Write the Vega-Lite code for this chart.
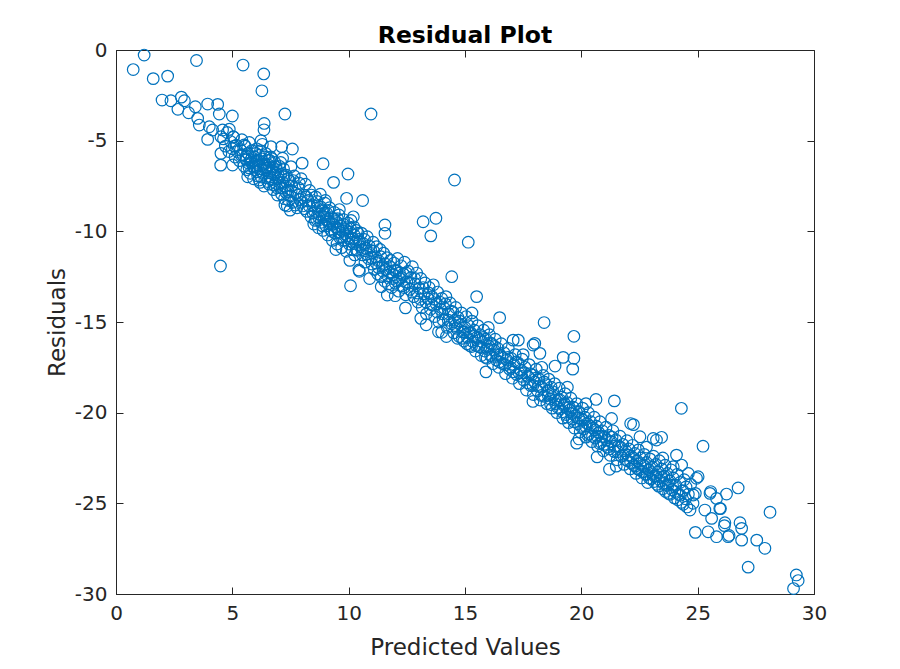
{
"$schema":"https://vega.github.io/schema/vega-lite/v6.json",
"width":698,"height":544,
"autosize":{"type":"none"},
"padding":{"left":116,"top":50,"right":86,"bottom":75},
"background":"#ffffff",
"title":{"text":"Residual Plot","font":"DejaVu Sans","fontSize":23.5,"fontWeight":"bold","color":"#000000","offset":-7,"anchor":"middle"},
"config":{"view":{"stroke":"#262626","strokeWidth":1},"axis":{"grid":false}},
"data":{"values":[
{"pred":0.74,"resid":-1.08},{"pred":1.21,"resid":-0.28},{"pred":1.6,"resid":-1.58},{"pred":2.22,"resid":-1.44},{"pred":3.46,"resid":-0.58},{"pred":5.46,"resid":-0.83},{"pred":6.35,"resid":-1.32},{"pred":6.27,"resid":-2.25},{"pred":7.26,"resid":-3.53},{"pred":10.96,"resid":-3.53},
{"pred":4.49,"resid":-11.91},{"pred":14.55,"resid":-7.17},{"pred":15.14,"resid":-10.6},{"pred":13.2,"resid":-9.47},{"pred":13.75,"resid":-9.28},{"pred":13.53,"resid":-10.25},{"pred":24.3,"resid":-19.76},{"pred":25.23,"resid":-21.85},{"pred":28.11,"resid":-25.49},{"pred":26.74,"resid":-24.15},
{"pred":27.17,"resid":-28.52},{"pred":29.24,"resid":-28.95},{"pred":29.32,"resid":-29.26},{"pred":29.12,"resid":-29.7},{"pred":27.89,"resid":-27.48},{"pred":27.54,"resid":-27.03},{"pred":18.4,"resid":-15.03},{"pred":19.68,"resid":-15.79},{"pred":16.49,"resid":-14.76},{"pred":9.97,"resid":-6.84},
{"pred":8.9,"resid":-6.27},{"pred":10.6,"resid":-8.3},{"pred":10.08,"resid":-13.0},{"pred":15.9,"resid":-17.75},{"pred":17.92,"resid":-19.38},{"pred":19.8,"resid":-21.68},{"pred":20.68,"resid":-22.44},{"pred":21.21,"resid":-23.12},{"pred":24.9,"resid":-26.6},{"pred":21.42,"resid":-19.35},
{"pred":22.12,"resid":-20.6},{"pred":22.24,"resid":-20.66},{"pred":14.0,"resid":-15.57},{"pred":13.33,"resid":-15.15},{"pred":11.66,"resid":-13.51},{"pred":12.44,"resid":-14.22},{"pred":4.5,"resid":-6.35},{"pred":5.0,"resid":-3.64},{"pred":4.37,"resid":-3.0},{"pred":1.98,"resid":-2.76},
{"pred":2.81,"resid":-2.6},{"pred":7.48,"resid":-8.83},{"pred":7.58,"resid":-5.46},{"pred":8.0,"resid":-6.24},{"pred":6.37,"resid":-4.05},{"pred":6.36,"resid":-4.4},{"pred":9.35,"resid":-7.3},{"pred":9.91,"resid":-8.18},{"pred":11.56,"resid":-9.65},{"pred":11.56,"resid":-10.11},
{"pred":10.44,"resid":-12.13},{"pred":15.5,"resid":-13.6},{"pred":14.43,"resid":-12.5},{"pred":13.86,"resid":-15.54},{"pred":17.07,"resid":-16.0},{"pred":17.29,"resid":-16.0},{"pred":18.0,"resid":-16.18},{"pred":19.68,"resid":-17.0},{"pred":19.63,"resid":-17.6},{"pred":19.22,"resid":-16.95},
{"pred":18.87,"resid":-17.43},{"pred":17.93,"resid":-16.27},{"pred":18.22,"resid":-16.73},{"pred":20.63,"resid":-19.27},{"pred":21.3,"resid":-20.32},{"pred":22.52,"resid":-21.33},{"pred":23.09,"resid":-21.42},{"pred":23.45,"resid":-21.36},{"pred":25.02,"resid":-23.53},{"pred":7.26,"resid":-8.55},
{"pred":7.12,"resid":-5.33},
{"pred":2.36,"resid":-2.8},{"pred":2.94,"resid":-2.8},{"pred":2.66,"resid":-3.27},{"pred":3.12,"resid":-3.46},{"pred":3.41,"resid":-3.13},{"pred":3.51,"resid":-3.77},{"pred":3.58,"resid":-4.14},{"pred":3.94,"resid":-2.98},{"pred":4.44,"resid":-3.53},{"pred":4.01,"resid":-4.23},
{"pred":4.15,"resid":-4.41},{"pred":3.94,"resid":-4.93},{"pred":4.58,"resid":-4.41},{"pred":4.87,"resid":-4.37},{"pred":4.51,"resid":-4.78},{"pred":5.04,"resid":-4.78},{"pred":4.51,"resid":-5.7},{"pred":5.08,"resid":-5.3},{"pred":5.51,"resid":-5.24},{"pred":6.23,"resid":-5.0},
{"pred":6.66,"resid":-5.33},{"pred":5.59,"resid":-6.07},{"pred":5.66,"resid":-6.99},{"pred":6.02,"resid":-6.43},{"pred":6.16,"resid":-7.17},{"pred":6.59,"resid":-6.07},{"pred":6.88,"resid":-6.43},{"pred":7.16,"resid":-5.97},{"pred":7.52,"resid":-6.43},{"pred":5.37,"resid":-5.79},
{"pred":5.01,"resid":-6.34},
{"pred":4.62,"resid":-4.9},{"pred":4.7,"resid":-5.3},{"pred":4.78,"resid":-4.55},{"pred":4.85,"resid":-5.6},{"pred":4.93,"resid":-5.05},{"pred":5.0,"resid":-5.45},{"pred":5.05,"resid":-4.8},{"pred":5.12,"resid":-5.9},{"pred":5.18,"resid":-5.25},{"pred":5.22,"resid":-5.6},
{"pred":5.3,"resid":-6.1},{"pred":5.35,"resid":-5.5},{"pred":5.41,"resid":-4.95},{"pred":5.46,"resid":-5.8},{"pred":5.5,"resid":-6.4},
{"pred":5.55,"resid":-5.3},{"pred":5.58,"resid":-6.0},{"pred":5.62,"resid":-6.6},{"pred":5.66,"resid":-5.7},{"pred":5.7,"resid":-6.25},{"pred":5.73,"resid":-5.1},{"pred":5.77,"resid":-6.8},{"pred":5.8,"resid":-6.05},{"pred":5.84,"resid":-5.55},{"pred":5.88,"resid":-6.4},
{"pred":5.91,"resid":-7.1},{"pred":5.95,"resid":-5.9},{"pred":5.98,"resid":-6.6},{"pred":6.02,"resid":-6.2},{"pred":6.05,"resid":-5.45},{"pred":6.09,"resid":-6.95},{"pred":6.12,"resid":-6.35},{"pred":6.15,"resid":-5.8},{"pred":6.19,"resid":-7.3},{"pred":6.22,"resid":-6.55},
{"pred":6.26,"resid":-6.0},{"pred":6.29,"resid":-5.2},{"pred":6.32,"resid":-6.8},{"pred":6.36,"resid":-7.5},{"pred":6.4,"resid":-6.3},{"pred":6.43,"resid":-5.7},{"pred":6.47,"resid":-7.05},{"pred":6.5,"resid":-6.5},
{"pred":6.54,"resid":-6.1},{"pred":6.58,"resid":-7.4},{"pred":6.61,"resid":-6.75},{"pred":6.65,"resid":-5.9},{"pred":6.69,"resid":-7.15},{"pred":6.72,"resid":-6.45},{"pred":6.76,"resid":-7.7},{"pred":6.8,"resid":-6.9},{"pred":6.83,"resid":-6.2},{"pred":6.87,"resid":-7.35},
{"pred":6.9,"resid":-6.6},{"pred":6.94,"resid":-8.0},{"pred":6.98,"resid":-7.1},{"pred":7.01,"resid":-6.4},{"pred":7.05,"resid":-7.6},{"pred":7.09,"resid":-6.85},{"pred":7.12,"resid":-7.95},{"pred":7.16,"resid":-7.3},{"pred":7.2,"resid":-6.55},{"pred":7.24,"resid":-8.2},
{"pred":7.28,"resid":-7.5},{"pred":7.32,"resid":-6.9},{"pred":7.36,"resid":-8.6},{"pred":7.4,"resid":-7.8},{"pred":7.45,"resid":-7.2},{"pred":7.5,"resid":-8.05},
{"pred":7.55,"resid":-7.5},{"pred":7.6,"resid":-8.4},{"pred":7.66,"resid":-6.95},{"pred":7.72,"resid":-7.9},{"pred":7.78,"resid":-8.7},{"pred":7.84,"resid":-7.6},{"pred":7.9,"resid":-8.25},{"pred":7.96,"resid":-7.1},{"pred":8.02,"resid":-8.6},{"pred":8.08,"resid":-8.0},
{"pred":8.14,"resid":-7.4},{"pred":8.2,"resid":-8.9},{"pred":8.26,"resid":-8.3},{"pred":8.32,"resid":-7.75},{"pred":8.38,"resid":-9.2},{"pred":8.44,"resid":-8.55},{"pred":8.5,"resid":-9.6},
{"pred":8.54,"resid":-8.9},{"pred":8.58,"resid":-8.1},{"pred":8.62,"resid":-9.35},{"pred":8.66,"resid":-8.6},{"pred":8.7,"resid":-9.8},{"pred":8.74,"resid":-9.05},{"pred":8.78,"resid":-7.95},{"pred":8.82,"resid":-9.5},{"pred":8.86,"resid":-8.8},{"pred":8.9,"resid":-9.95},
{"pred":8.94,"resid":-9.2},{"pred":8.98,"resid":-8.45},{"pred":9.02,"resid":-9.7},{"pred":9.06,"resid":-9.0},{"pred":9.1,"resid":-10.2},{"pred":9.14,"resid":-9.45},{"pred":9.18,"resid":-8.7},{"pred":9.22,"resid":-9.9},{"pred":9.26,"resid":-9.25},{"pred":9.3,"resid":-10.5},
{"pred":9.34,"resid":-9.6},{"pred":9.38,"resid":-8.95},{"pred":9.42,"resid":-10.1},{"pred":9.46,"resid":-9.45},{"pred":9.5,"resid":-10.7},{"pred":9.54,"resid":-9.85},{"pred":9.58,"resid":-9.1},{"pred":9.62,"resid":-10.35},{"pred":9.66,"resid":-9.7},{"pred":9.7,"resid":-10.9},
{"pred":9.74,"resid":-10.0},{"pred":9.78,"resid":-9.35},{"pred":9.82,"resid":-10.5},{"pred":9.86,"resid":-9.9},{"pred":9.9,"resid":-11.1},{"pred":9.94,"resid":-10.25},{"pred":9.98,"resid":-9.55},{"pred":10.02,"resid":-10.7},{"pred":10.06,"resid":-10.05},{"pred":10.1,"resid":-9.4},
{"pred":10.14,"resid":-11.0},{"pred":10.18,"resid":-10.4},{"pred":10.22,"resid":-9.75},{"pred":10.26,"resid":-11.3},{"pred":10.3,"resid":-10.6},{"pred":10.34,"resid":-9.95},{"pred":10.38,"resid":-11.05},{"pred":10.42,"resid":-10.45},{"pred":10.46,"resid":-12.2},{"pred":10.5,"resid":-10.85},
{"pred":10.55,"resid":-10.1},{"pred":10.6,"resid":-11.3},{"pred":10.65,"resid":-10.7},{"pred":10.7,"resid":-11.7},{"pred":10.75,"resid":-10.95},{"pred":10.8,"resid":-10.3},{"pred":10.85,"resid":-11.5},{"pred":10.9,"resid":-12.6},{"pred":10.95,"resid":-11.05},{"pred":11.0,"resid":-11.8},
{"pred":11.05,"resid":-10.6},{"pred":11.1,"resid":-12.1},{"pred":11.15,"resid":-11.4},{"pred":11.2,"resid":-10.85},{"pred":11.25,"resid":-12.35},{"pred":11.3,"resid":-11.65},{"pred":11.35,"resid":-11.0},{"pred":11.4,"resid":-12.5},{"pred":11.45,"resid":-11.9},{"pred":11.5,"resid":-11.2},
{"pred":11.55,"resid":-12.75},{"pred":11.6,"resid":-12.1},{"pred":11.65,"resid":-11.45},{"pred":11.7,"resid":-12.9},{"pred":11.75,"resid":-12.25},{"pred":11.8,"resid":-11.6},{"pred":11.85,"resid":-13.1},{"pred":11.9,"resid":-12.4},{"pred":11.95,"resid":-11.75},{"pred":12.0,"resid":-12.85},
{"pred":12.05,"resid":-12.2},{"pred":12.1,"resid":-11.5},{"pred":12.15,"resid":-13.3},{"pred":12.2,"resid":-12.6},{"pred":12.25,"resid":-11.9},{"pred":12.3,"resid":-13.0},{"pred":12.35,"resid":-12.35},{"pred":12.4,"resid":-11.7},{"pred":12.45,"resid":-13.5},{"pred":12.5,"resid":-12.8},
{"pred":12.56,"resid":-12.2},{"pred":12.62,"resid":-13.2},{"pred":12.68,"resid":-12.55},{"pred":12.74,"resid":-11.95},{"pred":12.8,"resid":-13.6},{"pred":12.86,"resid":-12.9},{"pred":12.92,"resid":-12.3},{"pred":12.98,"resid":-13.9},{"pred":13.04,"resid":-13.15},{"pred":13.1,"resid":-12.6},
{"pred":13.16,"resid":-14.2},{"pred":13.22,"resid":-13.45},{"pred":13.28,"resid":-12.85},{"pred":13.34,"resid":-14.55},{"pred":13.4,"resid":-13.7},{"pred":13.46,"resid":-13.1},{"pred":13.52,"resid":-14.3},{"pred":13.58,"resid":-13.6},{"pred":13.64,"resid":-12.95},{"pred":13.7,"resid":-14.7},
{"pred":13.76,"resid":-14.0},{"pred":13.82,"resid":-13.35},{"pred":13.88,"resid":-15.0},{"pred":13.94,"resid":-14.3},{"pred":14.0,"resid":-13.7},{"pred":14.06,"resid":-14.9},{"pred":14.12,"resid":-14.25},{"pred":14.18,"resid":-13.6},{"pred":14.24,"resid":-15.3},{"pred":14.3,"resid":-14.55},
{"pred":14.36,"resid":-13.95},{"pred":14.42,"resid":-15.1},{"pred":14.48,"resid":-14.45},
{"pred":14.52,"resid":-15.6},{"pred":14.56,"resid":-14.9},{"pred":14.6,"resid":-14.2},{"pred":14.65,"resid":-15.35},{"pred":14.7,"resid":-14.75},{"pred":14.75,"resid":-15.8},{"pred":14.8,"resid":-15.15},{"pred":14.85,"resid":-14.5},{"pred":14.9,"resid":-15.55},{"pred":14.95,"resid":-16.05},
{"pred":15.0,"resid":-15.3},{"pred":15.05,"resid":-14.7},{"pred":15.1,"resid":-15.85},{"pred":15.15,"resid":-15.2},{"pred":15.2,"resid":-16.3},{"pred":15.25,"resid":-15.6},{"pred":15.3,"resid":-14.95},{"pred":15.35,"resid":-16.1},{"pred":15.4,"resid":-15.45},{"pred":15.45,"resid":-16.6},
{"pred":15.5,"resid":-15.85},{"pred":15.55,"resid":-15.2},{"pred":15.6,"resid":-16.35},{"pred":15.65,"resid":-15.7},{"pred":15.7,"resid":-16.85},{"pred":15.75,"resid":-16.1},{"pred":15.8,"resid":-15.45},{"pred":15.85,"resid":-16.6},{"pred":15.9,"resid":-15.95},{"pred":15.95,"resid":-17.0},
{"pred":16.0,"resid":-16.3},{"pred":16.05,"resid":-15.7},{"pred":16.1,"resid":-16.85},{"pred":16.15,"resid":-16.2},{"pred":16.2,"resid":-17.3},{"pred":16.25,"resid":-16.55},{"pred":16.3,"resid":-15.95},{"pred":16.35,"resid":-17.1},{"pred":16.4,"resid":-16.45},{"pred":16.45,"resid":-17.5},
{"pred":16.5,"resid":-16.8},
{"pred":16.56,"resid":-16.2},{"pred":16.62,"resid":-17.3},{"pred":16.68,"resid":-16.7},{"pred":16.74,"resid":-17.85},{"pred":16.8,"resid":-17.1},{"pred":16.86,"resid":-16.45},{"pred":16.92,"resid":-17.6},{"pred":16.98,"resid":-17.0},{"pred":17.04,"resid":-18.1},{"pred":17.1,"resid":-17.35},
{"pred":17.16,"resid":-16.8},{"pred":17.22,"resid":-17.9},{"pred":17.28,"resid":-17.25},{"pred":17.34,"resid":-18.4},{"pred":17.4,"resid":-17.65},{"pred":17.46,"resid":-17.05},{"pred":17.52,"resid":-18.2},{"pred":17.58,"resid":-17.5},{"pred":17.64,"resid":-18.75},{"pred":17.7,"resid":-18.0},
{"pred":17.76,"resid":-17.35},{"pred":17.82,"resid":-18.5},{"pred":17.88,"resid":-17.9},{"pred":17.94,"resid":-19.0},{"pred":18.0,"resid":-18.3},{"pred":18.06,"resid":-17.6},{"pred":18.12,"resid":-18.8},{"pred":18.18,"resid":-18.15},{"pred":18.24,"resid":-19.3},{"pred":18.3,"resid":-18.6},
{"pred":18.36,"resid":-17.95},{"pred":18.42,"resid":-19.1},{"pred":18.48,"resid":-18.45},
{"pred":18.52,"resid":-19.5},{"pred":18.56,"resid":-18.8},{"pred":18.6,"resid":-18.15},{"pred":18.65,"resid":-19.25},{"pred":18.7,"resid":-18.6},{"pred":18.75,"resid":-19.75},{"pred":18.8,"resid":-19.05},{"pred":18.85,"resid":-18.4},{"pred":18.9,"resid":-19.5},{"pred":18.95,"resid":-20.0},
{"pred":19.0,"resid":-19.3},{"pred":19.05,"resid":-18.65},{"pred":19.1,"resid":-19.8},{"pred":19.15,"resid":-19.15},{"pred":19.2,"resid":-20.3},{"pred":19.25,"resid":-19.6},{"pred":19.3,"resid":-18.95},{"pred":19.35,"resid":-20.1},{"pred":19.4,"resid":-19.45},{"pred":19.45,"resid":-20.55},
{"pred":19.5,"resid":-19.85},{"pred":19.55,"resid":-19.2},{"pred":19.6,"resid":-20.35},{"pred":19.65,"resid":-19.7},{"pred":19.7,"resid":-20.85},{"pred":19.75,"resid":-20.15},{"pred":19.8,"resid":-19.5},{"pred":19.85,"resid":-20.6},{"pred":19.9,"resid":-19.95},{"pred":19.95,"resid":-21.05},
{"pred":20.0,"resid":-20.35},{"pred":20.05,"resid":-19.75},{"pred":20.1,"resid":-20.9},{"pred":20.15,"resid":-20.25},{"pred":20.2,"resid":-21.35},{"pred":20.25,"resid":-20.6},{"pred":20.3,"resid":-20.0},{"pred":20.35,"resid":-21.15},{"pred":20.4,"resid":-20.5},{"pred":20.45,"resid":-21.6},
{"pred":20.5,"resid":-20.85},{"pred":20.55,"resid":-20.25},{"pred":20.6,"resid":-21.4},{"pred":20.65,"resid":-20.75},{"pred":20.7,"resid":-21.85},{"pred":20.75,"resid":-21.1},{"pred":20.8,"resid":-20.5},{"pred":20.85,"resid":-21.65},{"pred":20.9,"resid":-21.0},{"pred":20.95,"resid":-22.1},
{"pred":21.0,"resid":-21.35},{"pred":21.06,"resid":-20.8},{"pred":21.12,"resid":-21.9},{"pred":21.18,"resid":-21.25},{"pred":21.24,"resid":-22.35},{"pred":21.3,"resid":-21.6},{"pred":21.36,"resid":-21.0},{"pred":21.42,"resid":-22.15},{"pred":21.48,"resid":-21.5},{"pred":21.54,"resid":-22.6},
{"pred":21.6,"resid":-21.85},{"pred":21.66,"resid":-21.3},{"pred":21.72,"resid":-22.4},{"pred":21.78,"resid":-21.75},{"pred":21.84,"resid":-22.85},{"pred":21.9,"resid":-22.1},{"pred":21.96,"resid":-21.55},
{"pred":22.0,"resid":-22.65},{"pred":22.05,"resid":-22.0},{"pred":22.1,"resid":-23.1},{"pred":22.15,"resid":-22.4},{"pred":22.2,"resid":-21.8},{"pred":22.25,"resid":-22.9},{"pred":22.3,"resid":-22.25},{"pred":22.35,"resid":-23.35},{"pred":22.4,"resid":-22.65},{"pred":22.45,"resid":-22.05},
{"pred":22.5,"resid":-23.15},{"pred":22.55,"resid":-22.5},{"pred":22.6,"resid":-23.6},{"pred":22.65,"resid":-22.9},{"pred":22.7,"resid":-22.3},{"pred":22.75,"resid":-23.4},{"pred":22.8,"resid":-22.75},{"pred":22.85,"resid":-23.85},{"pred":22.9,"resid":-23.15},{"pred":22.95,"resid":-22.55},
{"pred":23.0,"resid":-23.65},{"pred":23.05,"resid":-23.0},{"pred":23.1,"resid":-22.4},{"pred":23.15,"resid":-23.5},{"pred":23.2,"resid":-22.85},{"pred":23.25,"resid":-23.95},{"pred":23.3,"resid":-23.25},{"pred":23.35,"resid":-22.65},{"pred":23.4,"resid":-23.75},{"pred":23.45,"resid":-23.1},
{"pred":23.5,"resid":-24.2},{"pred":23.55,"resid":-23.5},{"pred":23.6,"resid":-22.9},{"pred":23.65,"resid":-24.0},{"pred":23.7,"resid":-23.35},{"pred":23.75,"resid":-24.45},{"pred":23.8,"resid":-23.75},{"pred":23.85,"resid":-23.15},{"pred":23.9,"resid":-24.25},{"pred":23.95,"resid":-23.6},
{"pred":24.0,"resid":-24.7},{"pred":24.06,"resid":-24.0},{"pred":24.12,"resid":-23.4},{"pred":24.18,"resid":-24.5},{"pred":24.24,"resid":-23.85},{"pred":24.3,"resid":-24.95},{"pred":24.36,"resid":-24.3},{"pred":24.42,"resid":-23.7},{"pred":24.48,"resid":-24.75},{"pred":24.54,"resid":-25.2},
{"pred":24.6,"resid":-24.5},{"pred":24.7,"resid":-23.95},{"pred":24.8,"resid":-25.0},{"pred":24.9,"resid":-24.45},
{"pred":26.24,"resid":-24.49},{"pred":25.53,"resid":-24.45},{"pred":25.81,"resid":-24.73},{"pred":24.95,"resid":-23.62},{"pred":24.6,"resid":-23.35},{"pred":24.09,"resid":-22.34},{"pred":24.31,"resid":-22.89},{"pred":24.67,"resid":-25.37},{"pred":25.31,"resid":-25.37},{"pred":25.95,"resid":-25.28},
{"pred":25.6,"resid":-25.83},{"pred":25.45,"resid":-26.57},{"pred":25.81,"resid":-26.84},{"pred":26.31,"resid":-26.84},{"pred":26.17,"resid":-26.07},{"pred":26.82,"resid":-26.07},{"pred":26.89,"resid":-26.38},{"pred":26.89,"resid":-27.03},{"pred":23.23,"resid":-21.51},{"pred":23.95,"resid":-22.98},
{"pred":24.81,"resid":-24.54},{"pred":25.56,"resid":-24.35},{"pred":25.98,"resid":-25.29},{"pred":26.15,"resid":-26.23},{"pred":26.35,"resid":-26.77},
{"pred":5.6,"resid":-5.85},{"pred":5.72,"resid":-6.5},{"pred":5.83,"resid":-6.2},{"pred":5.93,"resid":-6.45},{"pred":6.0,"resid":-5.7},{"pred":6.07,"resid":-6.7},{"pred":6.14,"resid":-6.1},{"pred":6.21,"resid":-5.55},{"pred":6.24,"resid":-7.0},{"pred":6.31,"resid":-6.3},
{"pred":6.38,"resid":-5.9},{"pred":6.45,"resid":-6.6},{"pred":6.52,"resid":-7.25},{"pred":6.57,"resid":-6.35},{"pred":6.63,"resid":-7.0},{"pred":6.7,"resid":-6.0},{"pred":6.74,"resid":-6.7},{"pred":6.79,"resid":-7.45},{"pred":6.85,"resid":-6.8},{"pred":6.92,"resid":-7.6},
{"pred":6.97,"resid":-6.9},{"pred":7.03,"resid":-7.3},{"pred":7.08,"resid":-6.2},{"pred":7.14,"resid":-7.6},{"pred":7.22,"resid":-7.0},{"pred":7.3,"resid":-7.85},{"pred":7.38,"resid":-7.1},{"pred":7.43,"resid":-8.3},{"pred":7.53,"resid":-7.75},{"pred":7.62,"resid":-7.2},
{"pred":7.7,"resid":-8.55},{"pred":7.8,"resid":-8.0},{"pred":7.88,"resid":-7.35},{"pred":7.98,"resid":-8.4},{"pred":8.1,"resid":-8.75},{"pred":8.18,"resid":-8.1},{"pred":8.3,"resid":-8.6},{"pred":8.4,"resid":-8.0},{"pred":8.47,"resid":-9.0},
{"pred":8.56,"resid":-9.4},{"pred":8.64,"resid":-8.35},{"pred":8.72,"resid":-9.25},{"pred":8.8,"resid":-8.65},{"pred":8.88,"resid":-9.7},{"pred":8.96,"resid":-9.0},{"pred":9.04,"resid":-9.35},{"pred":9.12,"resid":-8.85},{"pred":9.2,"resid":-9.6},{"pred":9.28,"resid":-10.0},
{"pred":9.36,"resid":-9.3},{"pred":9.44,"resid":-9.75},{"pred":9.52,"resid":-9.3},{"pred":9.6,"resid":-10.05},{"pred":9.68,"resid":-10.3},{"pred":9.76,"resid":-9.6},{"pred":9.84,"resid":-10.15},{"pred":9.92,"resid":-9.8},{"pred":10.0,"resid":-10.35},{"pred":10.08,"resid":-9.85},
{"pred":10.16,"resid":-10.6},{"pred":10.24,"resid":-10.2},{"pred":10.32,"resid":-11.0},{"pred":10.4,"resid":-10.1},{"pred":10.48,"resid":-10.6},{"pred":9.6,"resid":-8.8},{"pred":10.2,"resid":-9.2},{"pred":9.0,"resid":-8.3},{"pred":10.05,"resid":-11.6},{"pred":9.45,"resid":-11.0},
{"pred":10.58,"resid":-11.0},{"pred":10.68,"resid":-10.45},{"pred":10.78,"resid":-11.25},{"pred":10.88,"resid":-10.8},{"pred":10.98,"resid":-11.45},{"pred":11.08,"resid":-11.1},{"pred":11.18,"resid":-11.75},{"pred":11.28,"resid":-12.0},{"pred":11.38,"resid":-11.4},{"pred":11.48,"resid":-12.2},
{"pred":11.58,"resid":-11.8},{"pred":11.68,"resid":-12.45},{"pred":11.78,"resid":-11.95},{"pred":11.88,"resid":-12.6},{"pred":11.98,"resid":-12.15},{"pred":12.08,"resid":-12.75},{"pred":12.18,"resid":-12.3},{"pred":12.28,"resid":-12.55},{"pred":12.38,"resid":-13.1},{"pred":12.48,"resid":-12.3},
{"pred":11.4,"resid":-13.05},{"pred":12.0,"resid":-13.55},
{"pred":12.6,"resid":-12.85},{"pred":12.72,"resid":-13.35},{"pred":12.84,"resid":-12.6},{"pred":12.96,"resid":-13.4},{"pred":13.08,"resid":-13.75},{"pred":13.2,"resid":-13.1},{"pred":13.32,"resid":-13.9},{"pred":13.44,"resid":-13.4},{"pred":13.56,"resid":-14.05},{"pred":13.68,"resid":-13.75},
{"pred":13.8,"resid":-14.45},{"pred":13.92,"resid":-13.9},{"pred":14.04,"resid":-14.55},{"pred":14.16,"resid":-14.0},{"pred":14.28,"resid":-14.9},{"pred":14.4,"resid":-14.4},{"pred":13.1,"resid":-14.8},{"pred":14.2,"resid":-15.8},
{"pred":14.58,"resid":-15.2},{"pred":14.68,"resid":-15.9},{"pred":14.78,"resid":-14.95},{"pred":14.88,"resid":-15.9},{"pred":14.98,"resid":-15.55},{"pred":15.08,"resid":-16.2},{"pred":15.18,"resid":-15.6},{"pred":15.28,"resid":-16.35},{"pred":15.38,"resid":-15.8},{"pred":15.48,"resid":-16.3},
{"pred":15.58,"resid":-15.9},{"pred":15.68,"resid":-16.4},{"pred":15.78,"resid":-15.85},{"pred":15.88,"resid":-16.95},{"pred":15.98,"resid":-16.5},{"pred":16.08,"resid":-16.15},{"pred":16.18,"resid":-16.9},{"pred":16.28,"resid":-16.35},{"pred":16.38,"resid":-16.8},{"pred":16.48,"resid":-17.2},
{"pred":15.3,"resid":-14.5},{"pred":16.0,"resid":-15.3},
{"pred":16.6,"resid":-16.95},{"pred":16.72,"resid":-17.35},{"pred":16.84,"resid":-16.95},{"pred":16.96,"resid":-17.5},{"pred":17.08,"resid":-17.75},{"pred":17.2,"resid":-17.2},{"pred":17.32,"resid":-17.8},{"pred":17.44,"resid":-18.0},{"pred":17.56,"resid":-17.8},{"pred":17.68,"resid":-18.35},
{"pred":17.8,"resid":-17.85},{"pred":17.92,"resid":-18.5},{"pred":18.04,"resid":-18.1},{"pred":18.16,"resid":-18.55},{"pred":18.28,"resid":-19.05},{"pred":18.4,"resid":-18.3},{"pred":17.5,"resid":-16.8},{"pred":18.3,"resid":-17.5},
{"pred":18.58,"resid":-19.05},{"pred":18.68,"resid":-19.55},{"pred":18.78,"resid":-18.85},{"pred":18.88,"resid":-19.3},{"pred":18.98,"resid":-19.7},{"pred":19.08,"resid":-19.3},{"pred":19.18,"resid":-19.95},{"pred":19.28,"resid":-19.5},{"pred":19.38,"resid":-20.25},{"pred":19.48,"resid":-19.7},
{"pred":19.58,"resid":-20.05},{"pred":19.68,"resid":-20.5},{"pred":19.78,"resid":-19.95},{"pred":19.88,"resid":-20.3},{"pred":19.98,"resid":-20.75},{"pred":20.08,"resid":-20.4},{"pred":20.18,"resid":-20.75},{"pred":20.28,"resid":-21.25},{"pred":20.38,"resid":-20.75},{"pred":20.48,"resid":-21.3},
{"pred":20.58,"resid":-20.95},{"pred":20.68,"resid":-21.3},{"pred":20.78,"resid":-21.7},{"pred":20.88,"resid":-21.3},{"pred":20.98,"resid":-21.75},{"pred":19.4,"resid":-18.6},{"pred":20.2,"resid":-19.5},{"pred":19.9,"resid":-21.45},
{"pred":21.08,"resid":-21.5},{"pred":21.2,"resid":-22.0},{"pred":21.32,"resid":-21.35},{"pred":21.44,"resid":-21.85},{"pred":21.56,"resid":-22.15},{"pred":21.68,"resid":-21.9},{"pred":21.8,"resid":-22.35},{"pred":21.92,"resid":-22.6},{"pred":21.5,"resid":-22.95},
{"pred":22.02,"resid":-22.35},{"pred":22.12,"resid":-22.75},{"pred":22.22,"resid":-22.5},{"pred":22.32,"resid":-22.95},{"pred":22.42,"resid":-23.1},{"pred":22.52,"resid":-22.8},{"pred":22.62,"resid":-23.25},{"pred":22.72,"resid":-22.95},{"pred":22.82,"resid":-23.4},{"pred":22.92,"resid":-23.6},
{"pred":23.02,"resid":-23.3},{"pred":23.12,"resid":-23.8},{"pred":23.22,"resid":-23.5},{"pred":23.32,"resid":-24.05},{"pred":23.42,"resid":-23.55},{"pred":23.52,"resid":-23.9},{"pred":23.62,"resid":-24.35},{"pred":23.72,"resid":-24.0},{"pred":23.82,"resid":-24.5},{"pred":23.92,"resid":-24.0},
{"pred":24.02,"resid":-24.35},{"pred":24.14,"resid":-24.8},{"pred":24.26,"resid":-24.55},{"pred":24.38,"resid":-25.05},{"pred":24.5,"resid":-24.1},{"pred":22.8,"resid":-21.9},{"pred":23.5,"resid":-22.5}
]},
"layer":[
{"mark":{"type":"point","shape":"circle","filled":false,"size":135,"strokeWidth":1.2,"color":"#0072BD","opacity":1},
"encoding":{
"x":{"field":"pred","type":"quantitative","scale":{"domain":[0,30],"nice":false,"zero":false},
"axis":{"orient":"bottom","values":[0,5,10,15,20,25,30],"labelFlush":false,"title":"Predicted Values","titleFont":"DejaVu Sans","titleFontSize":23,"titleFontWeight":"normal","titleColor":"#262626","titlePadding":13,"labelFont":"DejaVu Sans","labelFontSize":20,"labelColor":"#262626","labelPadding":16,"tickSize":-7,"tickColor":"#262626","domainColor":"#262626","grid":false}},
"y":{"field":"resid","type":"quantitative","scale":{"domain":[-30,0],"nice":false,"zero":false},
"axis":{"orient":"left","values":[-30,-25,-20,-15,-10,-5,0],"labelFlush":false,"labelExpr":"'' + datum.value","title":"Residuals","titleFont":"DejaVu Sans","titleFontSize":23,"titleFontWeight":"normal","titleColor":"#262626","titlePadding":5,"labelFont":"DejaVu Sans","labelFontSize":20,"labelColor":"#262626","labelPadding":16,"tickSize":-7,"tickColor":"#262626","domainColor":"#262626","grid":false}}
}},
{"mark":{"type":"point","opacity":0},
"encoding":{
"x":{"field":"pred","type":"quantitative","axis":{"orient":"top","values":[0,5,10,15,20,25,30],"labels":false,"title":null,"tickSize":-7,"tickColor":"#262626","domain":false,"grid":false}},
"y":{"field":"resid","type":"quantitative","axis":{"orient":"right","values":[-30,-25,-20,-15,-10,-5,0],"labels":false,"title":null,"tickSize":-7,"tickColor":"#262626","domain":false,"grid":false}}
}}
],
"resolve":{"axis":{"x":"independent","y":"independent"}}
}
